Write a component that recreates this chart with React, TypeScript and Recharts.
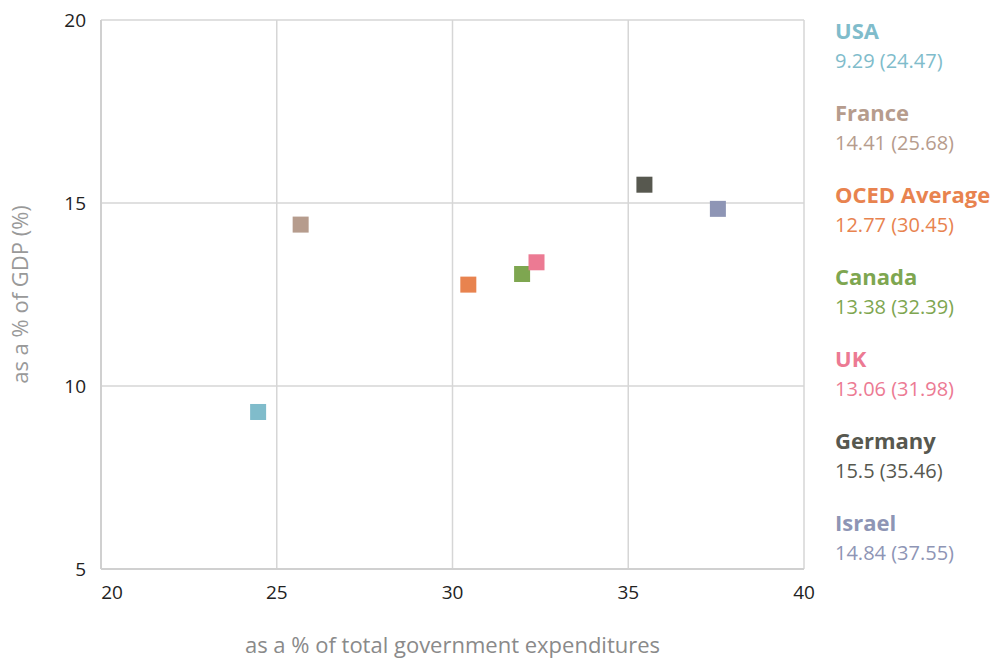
import { ScatterChart, Scatter, XAxis, YAxis, CartesianGrid, Cell } from "recharts";

// legend entries, in the order shown on the right
const NAMES = ["USA", "France", "OCED Average", "Canada", "UK", "Germany", "Israel"];
const LEGEND_VALUES = ["9.29 (24.47)", "14.41 (25.68)", "12.77 (30.45)", "13.38 (32.39)", "13.06 (31.98)", "15.5 (35.46)", "14.84 (37.55)"];
const COLORS = ["#80bccb", "#b69c8d", "#e8834f", "#7ea650", "#ec7a93", "#57584f", "#8e95b5"];

// plotted points (x = % of govt expenditures, y = % of GDP)
// the picture draws green at the UK point and pink at the Canada point
const PT_X = [24.47, 25.68, 30.45, 31.98, 32.39, 35.46, 37.55];
const PT_Y = [9.29, 14.41, 12.77, 13.06, 13.38, 15.5, 14.84];
const PT_COLORS = ["#80bccb", "#b69c8d", "#e8834f", "#7ea650", "#ec7a93", "#57584f", "#8e95b5"];

const X_TICKS = [20, 25, 30, 35, 40];
const Y_TICKS = [5, 10, 15, 20];

const points = PT_X.map((x, i) => ({ x, y: PT_Y[i] }));

const FONT = "'Open Sans', sans-serif";

function XTick(props: any) {
  const { x, y, payload, index } = props;
  const dx = index === 0 ? 11 : 0;
  return (
    <text x={x + dx} y={y} dy="0.71em" textAnchor="middle" fill="#222" fontSize={19} fontFamily={FONT}>
      {payload.value}
    </text>
  );
}

function Square(props: any) {
  const { cx, cy, fill } = props;
  return <rect x={cx - 8} y={cy - 8} width={16} height={16} fill={fill} />;
}

export default function App() {
  return (
    <div style={{ position: "relative", width: 1008, height: 667, margin: -8, background: "#fff", fontFamily: FONT }}>
      <ScatterChart width={1008} height={667} margin={{ top: 20, right: 204, bottom: 3, left: 11 }}>
        <CartesianGrid stroke="#d6d6d6" strokeWidth={1.5} />
        <XAxis
          type="number"
          dataKey="x"
          domain={[20, 40]}
          ticks={X_TICKS}
          height={95}
          axisLine={{ stroke: "#d0d0d0", strokeWidth: 2 }}
          tickLine={false}
          tickMargin={11}
          tick={<XTick />}
          label={{ value: "as a % of total government expenditures", position: "insideBottom", offset: 11, fill: "#8a8a8a", fontSize: 22, fontFamily: FONT }}
        />
        <YAxis
          type="number"
          dataKey="y"
          domain={[5, 20]}
          ticks={Y_TICKS}
          width={90}
          axisLine={{ stroke: "#d0d0d0", strokeWidth: 2 }}
          tickLine={false}
          tickMargin={9}
          tick={{ fill: "#222", fontSize: 19, fontFamily: FONT }}
          label={{ value: "as a % of GDP (%)", angle: -90, position: "insideLeft", offset: 9, fill: "#999", fontSize: 22, fontFamily: FONT, style: { textAnchor: "middle" } }}
        />
        <Scatter data={points} shape={<Square />} isAnimationActive={false}>
          {points.map((_, i) => (
            <Cell key={i} fill={PT_COLORS[i]} />
          ))}
        </Scatter>
      </ScatterChart>

      <div style={{ position: "absolute", left: 835, top: 15 }}>
        {NAMES.map((n, i) => (
          <div key={n} style={{ height: 82, color: COLORS[i] }}>
            <div style={{ fontWeight: 700, fontSize: 22, lineHeight: "30px" }}>{n}</div>
            <div style={{ fontSize: 20, lineHeight: "32px" }}>{LEGEND_VALUES[i]}</div>
          </div>
        ))}
      </div>
    </div>
  );
}
